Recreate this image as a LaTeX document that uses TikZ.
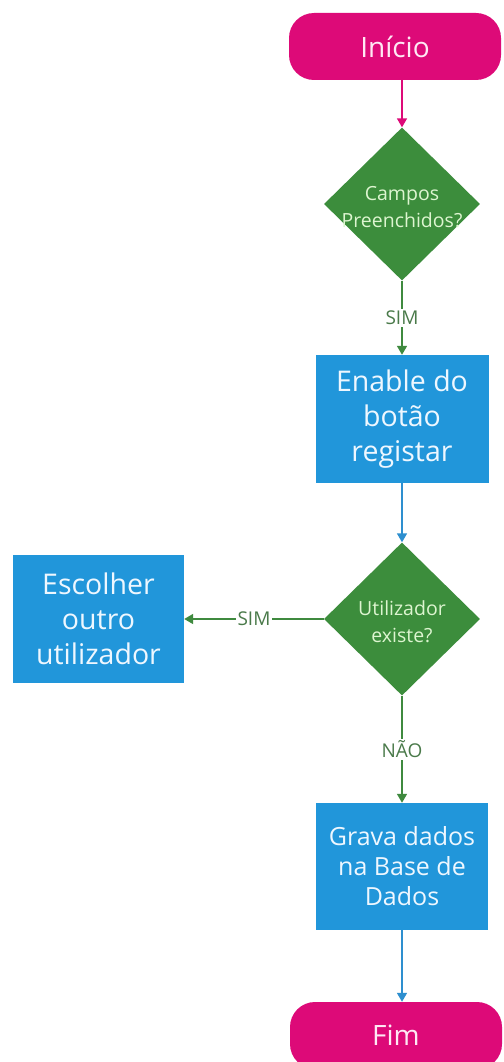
\documentclass[tikz,border=0pt]{standalone}
\usepackage{fontspec}
\setmainfont{Open Sans}
\usetikzlibrary{shapes.geometric,arrows.meta}
\definecolor{mag}{HTML}{DD0A78}
\definecolor{dgreen}{HTML}{3C8D3C}
\definecolor{lgreen}{HTML}{3F8A3F}
\definecolor{boxblue}{HTML}{2196DA}
\definecolor{lineblue}{HTML}{2E8FCF}
\definecolor{labcol}{HTML}{4A7A4A}
\definecolor{diatextcol}{HTML}{DDF5D0}
\definecolor{boxtextcol}{HTML}{EEF7FF}
\definecolor{pilltextcol}{HTML}{FFE8F4}
\tikzset{
  pill/.style={draw=none, fill=mag, rounded corners=25pt, minimum width=212pt, minimum height=67pt, inner sep=0pt,
    text=pilltextcol, font=\fontsize{28}{34}\selectfont},
  diab/.style={shape=diamond, draw=none, fill=dgreen, minimum width=156pt, minimum height=153pt, inner sep=0pt},
  diatext/.style={text=diatextcol, align=center, inner sep=0pt, font=\fontsize{19.5}{27}\selectfont},
  procbox/.style={draw=none, fill=boxblue, minimum width=173pt, minimum height=128pt, inner sep=0pt,
    text=boxtextcol, align=center, font=\fontsize{28.5}{35}\selectfont},
  conn/.style={line width=1.6pt, -{Triangle[width=10pt,length=9pt]}},
  lab/.style={fill=white, text=labcol, inner sep=2pt, font=\fontsize{19}{22}\selectfont},
}
\begin{document}
\begin{tikzpicture}[x=1pt,y=-1pt]
\useasboundingbox (0,0) rectangle (503,1062);
\clip (0,0) rectangle (503,1062);
\fill[white] (0,0) rectangle (503,1062);

\node[pill] (inicio) at (395,46.5) {Início};
\node[diab] (d1) at (402,204) {};
\node[diatext] (d1t) at (402,207) {Campos\\Preenchidos?};
\node[procbox] (b1) at (402,419) {Enable do\\botão\\registar};
\node[diab] (d2) at (402,619) {};
\node[diatext] (d2t) at (402,622) {Utilizador\\existe?};
\node[procbox, minimum width=171pt] (b2) at (98.5,619) {Escolher\\outro\\utilizador};
\node[procbox, minimum width=172pt, minimum height=127pt, font=\fontsize{25}{30}\selectfont] (b3) at (402,866.5) {Grava dados\\na Base de\\Dados};
\node[pill] (fim) at (396,1035.5) {Fim};

\draw[conn, mag] (d1.north |- inicio.south) -- (d1.north);
\draw[conn, lgreen] (d1.south) -- node[lab] {SIM} (b1.north);
\draw[conn, lineblue] (b1.south) -- (d2.north);
\draw[conn, lgreen] (d2.west) -- node[lab] {SIM} (b2.east);
\draw[conn, lgreen] (d2.south) -- node[lab] {NÃO} (b3.north);
\draw[conn, lineblue] (b3.south) -- (b3.south |- fim.north);
\end{tikzpicture}
\end{document}
